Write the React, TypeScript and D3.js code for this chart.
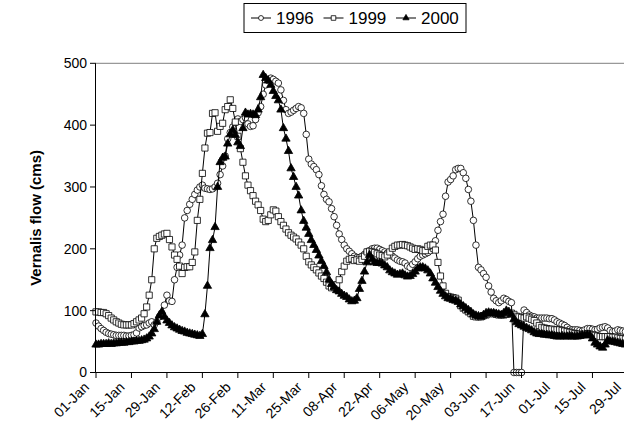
import React from 'react'
import * as d3 from 'd3'

// daily flow (cms), starting 01-Jan, one value per day
const flow1996 = [
  80, 75, 71, 68, 65, 63, 62, 61, 60, 60,
  60, 60, 59, 59, 60, 61, 64, 72, 74, 76,
  77, 80, 82, 77, 82, 90, 96, 109, 125, 116,
  115, 150, 170, 190, 206, 250, 262, 272, 280, 288,
  295, 300, 303, 298, 297, 296, 297, 300, 306, 320,
  334, 350, 378, 388, 397, 404, 410, 406, 409, 412,
  402, 398, 399, 409, 420, 430, 450, 465, 472, 476,
  474, 471, 468, 457, 440, 425, 419, 421, 424, 427,
  430, 428, 419, 385, 345, 337, 333, 328, 320, 302,
  288, 280, 276, 265, 252, 238, 224, 215, 206, 200,
  196, 192, 188, 186, 186, 188, 191, 195, 197, 200,
  201, 201, 199, 197, 195, 193, 191, 188, 185, 182,
  180, 179, 177, 172, 170, 175, 179, 184, 188, 190,
  192, 194, 197, 200, 213, 230, 244, 256, 285, 308,
  312, 318, 328, 330, 330, 323, 314, 296, 277, 246,
  206, 170, 166, 160, 154, 140, 130, 120, 116, 113,
  116, 120, 118, 115, 113, 0, 0, 0, 0, 101,
  97, 93, 91, 90, 88, 88, 88, 88, 88, 87,
  87, 85, 82, 80, 78, 76, 73, 70, 69, 69,
  69, 68, 67, 69, 71, 71, 70, 69, 70, 72,
  73, 74, 72, 68, 66, 67, 69, 68, 67, 66
]

const flow1999 = [
  98, 98, 97, 97, 95, 92, 88, 85, 82, 80,
  78, 77, 77, 77, 77, 79, 82, 85, 88, 95,
  106, 125, 150, 200, 217, 220, 222, 224, 225, 215,
  203, 190, 183, 172, 160, 170, 171, 171, 178, 195,
  246, 280, 322, 363, 387, 388, 419, 420, 390, 398,
  403, 425, 430, 441, 427, 405, 382, 362, 340, 318,
  303, 294, 286, 277, 271, 262, 248, 244, 246, 255,
  263, 261, 252, 244, 238, 232, 226, 222, 219, 216,
  211, 206, 200, 188, 179, 174, 170, 166, 161, 156,
  152, 146, 140, 137, 138, 142, 150, 163, 172, 180,
  183, 184, 181, 182, 180, 183, 188, 195, 196, 195,
  194, 192, 190, 189, 187, 190, 195, 201, 204, 206,
  206, 207, 206, 205, 203, 201, 199, 200, 199, 197,
  197, 204, 206, 206, 198, 178, 156, 140, 128, 123,
  122, 121, 120, 117, 108, 104, 101, 98, 95, 91,
  90, 90, 90, 92, 93, 95, 96, 95, 94, 93,
  93, 93, 94, 95, 96, 94, 91, 90, 89, 88,
  90, 88, 86, 84, 80, 76, 73, 72, 71, 70,
  70, 69, 69, 69, 68, 67, 66, 65, 64, 63,
  62, 62, 61, 62, 63, 62, 61, 60, 59, 58,
  58, 58, 58, 58, 57, 57, 56, 55, 55, 54
]

const flow2000 = [
  45, 45, 46, 46, 46, 47, 46, 47, 47, 48,
  48, 48, 49, 49, 50, 50, 51, 51, 52, 53,
  55, 58, 63, 70, 82, 92, 98, 90, 84, 80,
  76, 73, 71, 69, 67, 66, 64, 63, 62, 61,
  60, 59, 62, 94, 140, 201, 214, 235, 300, 340,
  347, 349, 370, 385, 392, 384, 372, 366, 395, 420,
  417, 418, 417, 416, 425, 445, 481, 476, 472, 465,
  455, 447, 440, 425, 395, 378, 358, 330, 316, 300,
  286, 262, 245, 234, 224, 214, 206, 198, 189, 180,
  172, 162, 150, 143, 138, 133, 131, 127, 124, 122,
  118, 115, 116, 120, 135, 148, 163, 178, 190, 183,
  178, 177, 177, 176, 173, 170, 165, 162, 160, 158,
  159, 160, 157, 155, 156, 159, 163, 168, 170, 170,
  168, 165, 160, 152, 145, 138, 132, 127, 123, 120,
  119, 117, 116, 114, 110, 107, 104, 101, 98, 94,
  92, 91, 90, 93, 96, 97, 96, 96, 95, 94,
  93, 96, 100, 98, 94, 86, 81, 78, 76, 74,
  72, 70, 68, 65, 63, 62, 62, 61, 61, 60,
  60, 59, 58, 58, 59, 58, 58, 59, 58, 58,
  58, 59, 60, 60, 61, 60, 55, 48, 45, 42,
  40, 45, 52, 50, 50, 49, 48, 47, 46, 45
]

const seriesNames = ['1996', '1999', '2000']
const yTicks = [0, 100, 200, 300, 400, 500]

const W = 624
const H = 441
const font = "'Liberation Sans', Arial, sans-serif"

const start = new Date(Date.UTC(2000, 0, 1))
const stop = new Date(Date.UTC(2000, 7, 10))

const x = d3.scaleUtc().domain([start, stop]).range([96, 96 + 222 * 2.533])
const y = d3.scaleLinear().domain([0, 500]).range([372.5, 63.3])

const dayOf = (i: number) => d3.utcDay.offset(start, i)
const xTicks = d3.utcDay.range(start, stop, 14)
const fmt = d3.utcFormat('%d-%b')

const symbols = [d3.symbolCircle, d3.symbolSquare, d3.symbolTriangle]
const sizes = [34, 38, 30]
const fills = ['#fff', '#fff', '#000']

function Series({ values, k }: { values: number[], k: number }) {
  const line = d3.line<number>()
    .x((d, i) => x(dayOf(i)))
    .y(d => y(d))
  const sym = d3.symbol(symbols[k], sizes[k])()
  return (
    <g>
      <path d={line(values) || ''} fill="none" stroke="#000" strokeWidth={1} />
      {values.map((v, i) => (
        <path key={i} d={sym || ''}
          transform={`translate(${x(dayOf(i))},${y(v)})`}
          fill={fills[k]} stroke="#000" strokeWidth={0.8} />
      ))}
    </g>
  )
}

export default function App() {
  const data = [flow1996, flow1999, flow2000]
  const legendX = 244
  const itemW = 72.5
  return (
    <svg width={W} height={H} style={{ position: 'fixed', left: 0, top: 0, background: '#fff' }}
      fontFamily={font}>
      {/* plot frame */}
      <rect x={95.5} y={63.3} width={700} height={309.2} fill="none" stroke="#808080" strokeWidth={1} />

      {data.map((vals, k) => <Series key={k} values={vals} k={k} />)}

      {/* y axis */}
      <line x1={95.5} x2={95.5} y1={63.3} y2={372.5} stroke="#000" />
      {yTicks.map(t => (
        <g key={t}>
          <line x1={90} x2={95.5} y1={y(t)} y2={y(t)} stroke="#000" />
          <text x={87} y={y(t)} dy="0.35em" textAnchor="end" fontSize={14}>{t}</text>
        </g>
      ))}
      <text transform={`translate(41,${(63.3 + 372.5) / 2}) rotate(-90)`} textAnchor="middle"
        fontSize={15} fontWeight="bold">Vernalis flow (cms)</text>

      {/* x axis */}
      <line x1={95.5} x2={W} y1={372.5} y2={372.5} stroke="#000" />
      {xTicks.map((d, i) => (
        <g key={i}>
          <line x1={x(d)} x2={x(d)} y1={372.5} y2={378} stroke="#000" />
          <text transform={`translate(${x(d) - 6},${388}) rotate(-45)`} textAnchor="end"
            fontSize={14}>{fmt(d)}</text>
        </g>
      ))}

      {/* legend */}
      <rect x={legendX} y={3.5} width={466 - legendX} height={29} fill="#fff" stroke="#000" />
      {seriesNames.map((name, k) => {
        const lx = legendX + 7 + k * itemW
        const sym = d3.symbol(symbols[k], sizes[k] * 0.55)()
        return (
          <g key={name}>
            <line x1={lx} x2={lx + 20} y1={18} y2={18} stroke="#000" />
            <path d={sym || ''} transform={`translate(${lx + 10},18)`} fill={fills[k]} stroke="#000" strokeWidth={0.8} />
            <text x={lx + 25} y={18} dy="0.35em" fontSize={17}>{name}</text>
          </g>
        )
      })}
    </svg>
  )
}
